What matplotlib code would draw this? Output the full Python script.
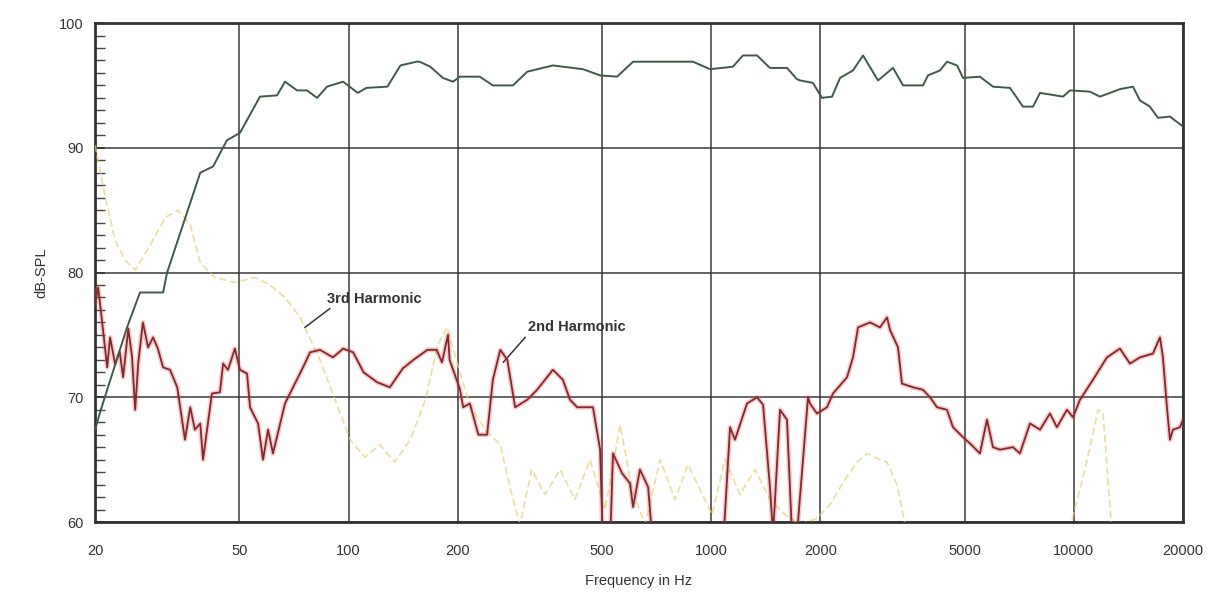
import matplotlib
matplotlib.use("Agg")
import matplotlib.pyplot as plt
from matplotlib.ticker import FixedLocator, NullFormatter, NullLocator

plt.rcParams['font.family'] = ['Liberation Sans', 'DejaVu Sans']

# ---------------- data ----------------
x_ticks = [20, 50, 100, 200, 500, 1000, 2000, 5000, 10000, 20000]
x_tick_labels = ["20", "50", "100", "200", "500", "1000", "2000", "5000", "10000", "20000"]
y_ticks = [60, 70, 80, 90, 100]
y_tick_labels = ["60", "70", "80", "90", "100"]

# fundamental (green)
green_f = [20, 20.6, 21.6, 24.5, 26.6, 30.8, 31.6, 39.0, 42.3, 46.2, 50.2, 57.0, 63.5, 66.8,
           72.1, 76.8, 81.9, 87.2, 96.6, 106, 112, 128, 139, 154, 157, 168, 182, 194, 203,
           230, 250, 284, 311, 366, 443, 494, 550, 609, 891, 992, 1148, 1223, 1338, 1452,
           1618, 1724, 1757, 1908, 2020, 2154, 2266, 2460, 2622, 2884, 3172, 3381, 3837,
           3960, 4274, 4468, 4763, 4947, 5508, 5983, 6666, 7240, 7716, 8066, 9333, 9758,
           11076, 11800, 13398, 14550, 15210, 16208, 17052, 18402, 20000]
green_db = [67.4, 68.7, 70.6, 75.6, 78.4, 78.4, 80.0, 88.0, 88.5, 90.6, 91.2, 94.1, 94.2, 95.3,
            94.6, 94.6, 94.0, 94.9, 95.3, 94.4, 94.8, 94.9, 96.6, 96.9, 96.9, 96.5, 95.6, 95.3,
            95.7, 95.7, 95.0, 95.0, 96.1, 96.6, 96.3, 95.8, 95.7, 96.9, 96.9, 96.3, 96.5,
            97.4, 97.4, 96.4, 96.4, 95.5, 95.4, 95.2, 94.0, 94.1, 95.6, 96.2, 97.4, 95.4,
            96.4, 95.0, 95.0, 95.8, 96.2, 96.9, 96.6, 95.6, 95.7, 94.9, 94.8, 93.3, 93.3,
            94.4, 94.1, 94.6, 94.5, 94.1, 94.7, 94.9, 93.8, 93.3, 92.4, 92.5, 91.7]

# 2nd harmonic (red)
red_f = [20, 20.4, 21.0, 21.6, 22.0, 22.7, 23.4, 23.9, 24.7, 25.3, 25.8, 26.3, 27.1, 28.0,
         28.9, 29.8, 30.8, 32.2, 33.7, 35.4, 36.6, 37.7, 39.0, 39.7, 42.0, 44.2, 45.1, 46.5,
         48.6, 50.2, 52.5, 53.5, 56.3, 58.1, 60.0, 61.9, 66.8, 70.3, 74.9, 78.3, 83.4, 90.6,
         96.6, 103, 110, 120, 130, 141, 151, 165, 175, 181, 188, 190, 203, 207, 216, 228,
         241, 250, 262, 274, 288, 311, 331, 366, 390, 408, 427, 472, 494, 503, 526, 536,
         568, 597, 609, 636, 670, 691, 1078, 1127, 1163, 1255, 1338, 1390, 1452, 1481, 1548,
         1618, 1670, 1724, 1849, 1872, 1957, 2086, 2166, 2368, 2460, 2540, 2742, 2920, 3054,
         3112, 3274, 3357, 3600, 3837, 4012, 4194, 4468, 4642, 4947, 5170, 5508, 5760, 5983,
         6256, 6792, 7100, 7568, 8066, 8590, 8980, 9572, 9942, 10394, 11288, 12336, 13398,
         14278, 15210, 16520, 17272, 17604, 18056, 18402, 18754, 19608, 20000]
red_db = [77.5, 78.8, 75.6, 72.4, 74.8, 72.7, 73.6, 71.6, 75.5, 73.2, 69.0, 72.7, 76.0, 74.0,
          74.8, 73.9, 72.4, 72.2, 70.8, 66.6, 69.2, 67.4, 67.9, 65.0, 70.3, 70.4, 72.7, 72.2,
          73.9, 72.2, 71.9, 69.2, 67.9, 65.0, 67.4, 65.5, 69.5, 70.8, 72.4, 73.6, 73.8, 73.2,
          73.9, 73.6, 72.0, 71.2, 70.8, 72.3, 73.0, 73.8, 73.8, 72.8, 75.0, 73.0, 70.6, 69.2,
          69.5, 67.0, 67.0, 71.4, 73.8, 73.0, 69.2, 69.8, 70.6, 72.2, 71.4, 69.8, 69.2, 69.2,
          65.8, 58.0, 58.0, 65.5, 63.9, 63.1, 61.2, 64.2, 62.8, 58.0, 58.0, 67.6, 66.6, 69.5,
          70.0, 69.4, 62.8, 59.0, 69.0, 68.2, 59.0, 59.0, 70.0, 69.5, 68.7, 69.2, 70.3, 71.6,
          73.2, 75.6, 76.0, 75.6, 76.4, 75.4, 74.0, 71.1, 70.8, 70.6, 70.0, 69.2, 69.0, 67.6,
          66.8, 66.3, 65.5, 68.2, 66.0, 65.8, 66.0, 65.5, 67.9, 67.4, 68.7, 67.6, 69.0, 68.4,
          69.8, 71.4, 73.2, 73.9, 72.7, 73.2, 73.5, 74.8, 73.2, 69.2, 66.6, 67.4, 67.6, 68.2]

# 3rd harmonic (yellow, dashed)
third_f = [20, 21.3, 22.7, 24.2, 25.8, 28.4, 31.2, 33.9, 36.6, 39.0, 42.8, 48.6, 55.2, 60.7,
           66.8, 73.5, 83.4, 91.8, 101, 111, 122, 134, 148, 163, 176, 187, 200, 216, 238,
           262, 282, 297, 320, 348, 383, 421, 463, 510, 561, 605, 657, 723, 795, 863, 931,
           1005, 1092, 1200, 1320, 1452, 1597, 1757, 1957, 2126, 2338, 2522, 2689, 2865,
           3054, 3253, 3424, 3600, 9452, 9882, 10730, 11654, 12030, 12576, 13100, 20000]
third_db = [90.2, 86.2, 82.6, 81.0, 80.2, 82.2, 84.4, 85.0, 83.8, 80.8, 79.6, 79.2, 79.6, 79.0,
            78.0, 76.4, 73.0, 69.8, 66.6, 65.2, 66.2, 64.8, 66.6, 69.8, 74.2, 75.6, 72.6,
            69.4, 67.4, 66.2, 62.2, 59.8, 64.2, 62.2, 64.2, 61.8, 65.0, 61.0, 67.8, 62.6,
            59.8, 65.0, 61.8, 64.6, 62.6, 60.6, 65.0, 62.2, 64.2, 61.8, 60.6, 59.8, 60.3,
            61.4, 63.4, 64.8, 65.5, 65.1, 64.8, 63.0, 59.8, 55.0, 55.0, 60.2, 64.2, 69.0,
            68.8, 61.2, 55.0, 55.0]

# ---------------- figure ----------------
fig = plt.figure(figsize=(12.14, 5.92), dpi=100)
ax = fig.add_axes([0.0783, 0.1182, 0.8962, 0.8429])
ax.set_xscale('log')
ax.set_xlim(20, 20000)
ax.set_ylim(60, 100)

# grid
ax.set_xticks(x_ticks)
ax.set_xticklabels(x_tick_labels)
ax.xaxis.set_minor_locator(NullLocator())
ax.set_yticks(y_ticks)
ax.set_yticklabels(y_tick_labels)
ax.yaxis.set_minor_locator(FixedLocator(range(60, 101)))
ax.yaxis.set_minor_formatter(NullFormatter())
ax.grid(True, which='major', color='#3a3a3a', linewidth=1.1)
ax.set_axisbelow(True)

for s in ax.spines.values():
    s.set_color('#333333')
    s.set_linewidth(2.0)

ax.tick_params(axis='x', which='major', length=0, pad=16, labelsize=10.5, labelcolor='#333333')
ax.tick_params(axis='y', which='major', direction='in', length=7, width=1.2, pad=8,
               labelsize=10.5, labelcolor='#333333', color='#333333')
ax.tick_params(axis='y', which='minor', direction='in', length=7, width=1.0, color='#444444')

# curves
ax.plot(third_f, third_db, color='#ebcf7c', linewidth=1.3, linestyle=(0, (4, 2)), alpha=0.7,
        zorder=3)
ax.plot(red_f, red_db, color='#e85050', linewidth=3.5, alpha=0.3, zorder=4,
        solid_joinstyle='round')
ax.plot(red_f, red_db, color='#7e2a2e', linewidth=1.3, zorder=5)
ax.plot(green_f, green_db, color='#3f5a48', linewidth=1.4, zorder=6)

# annotations
ax.annotate("3rd Harmonic", xy=(75.8, 75.6), xytext=(87.2, 77.9),
            fontsize=10.5, color='#333333', fontweight='bold', va='center', ha='left',
            arrowprops=dict(arrowstyle='-', color='#333333', lw=1.1, shrinkA=0, shrinkB=0,
                            relpos=(0.07, 0.0)))
ax.annotate("2nd Harmonic", xy=(267, 72.8), xytext=(312, 75.6),
            fontsize=10.5, color='#333333', fontweight='bold', va='center', ha='left',
            arrowprops=dict(arrowstyle='-', color='#333333', lw=1.1, shrinkA=0, shrinkB=0,
                            relpos=(0.0, 0.0)))

ax.set_ylabel("dB-SPL", fontsize=10.5, color='#333333', labelpad=8)
ax.set_xlabel("Frequency in Hz", fontsize=10.5, color='#333333', labelpad=11)

fig.savefig("out.png", dpi=100)
